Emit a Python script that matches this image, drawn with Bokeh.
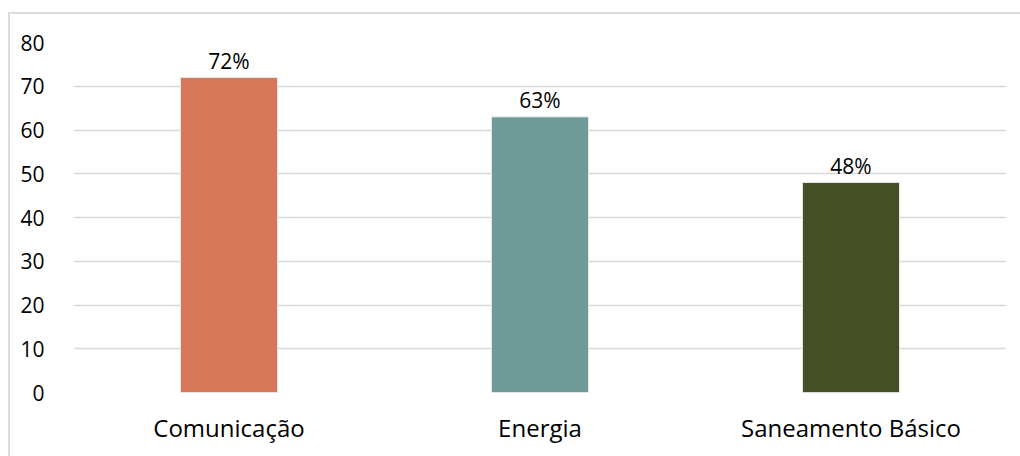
from bokeh.plotting import figure
from bokeh.layouts import column
from bokeh.models import Range1d, FactorRange, SingleIntervalTicker, ColumnDataSource
from bokeh.core.properties import value
from bokeh.embed import file_html
from bokeh.resources import INLINE

# Share of coverage by service (%)
categories = ["Comunicação", "Energia", "Saneamento Básico"]
values = [72, 63, 48]
labels = ["72%", "63%", "48%"]
colors = ["#D6785A", "#6E9A98", "#454F24"]

FONT = "Open Sans"

src = ColumnDataSource(dict(cat=categories, val=values, lab=labels, col=colors))

p = figure(
    width=1010, height=442,
    x_range=FactorRange(*categories, range_padding=0),
    y_range=Range1d(0, 80),
    output_backend="svg", toolbar_location=None,
    min_border_left=63, min_border_right=14, min_border_top=28, min_border_bottom=64,
)
p.outline_line_color = None
p.background_fill_color = "white"
p.border_fill_color = "white"

p.vbar(x="cat", top="val", width=0.312, fill_color="col",
       line_color="#e6e6e6", line_width=1, source=src)

p.text(x="cat", y="val", text="lab", source=src,
       text_align="center", text_baseline="bottom", y_offset=-3,
       text_font=value(FONT), text_font_size="21px", text_color="#000000")

# y axis
p.yaxis.ticker = SingleIntervalTicker(interval=10)
p.yaxis.axis_line_color = None
p.yaxis.major_tick_line_color = None
p.yaxis.minor_tick_line_color = None
p.yaxis.major_label_standoff = 23
p.yaxis.major_label_text_font = FONT
p.yaxis.major_label_text_font_size = "21px"
p.yaxis.major_label_text_color = "#000000"

# x axis
p.xaxis.axis_line_color = None
p.xaxis.major_tick_line_color = None
p.xaxis.minor_tick_line_color = None
p.xaxis.major_label_standoff = 12
p.xaxis.major_label_text_font = FONT
p.xaxis.major_label_text_font_size = "24px"
p.xaxis.major_label_text_color = "#000000"

p.xgrid.grid_line_color = None
p.ygrid.grid_line_color = "#d9d9d9"
p.ygrid.grid_line_width = 1.5
p.ygrid.ticker = SingleIntervalTicker(interval=10)

# chart area with a light outer border
chart = column(p, styles={
    "margin-left": "8px", "margin-top": "12px",
    "border-left": "2px solid #dcdcdc", "border-top": "2px solid #dcdcdc",
    "background": "white",
})

open("out.html", "w").write(file_html(chart, INLINE))
